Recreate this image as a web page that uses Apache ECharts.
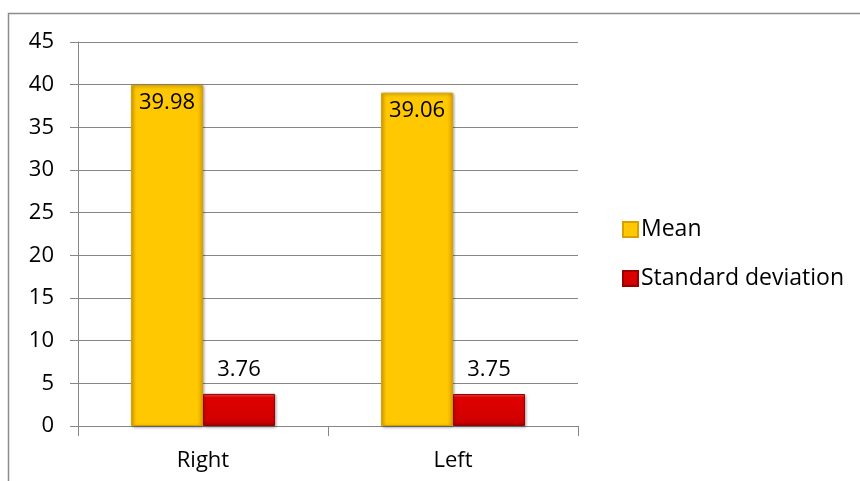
<!DOCTYPE html>
<html><head><meta charset="utf-8">
<script src="https://cdn.jsdelivr.net/npm/echarts@6/dist/echarts.min.js"></script>
<style>html,body{margin:0;padding:0;background:#fff}#c{width:860px;height:481px}</style>
</head><body><div id="c"></div>
<script>
var categories = ['Right', 'Left'];
var meanValues = [39.98, 39.06];
var sdValues = [3.76, 3.75];
var seriesNames = ['Mean', 'Standard deviation'];

var FONT = 'Open Sans';
var FS = 22;
var chart = echarts.init(document.getElementById('c'), null, {renderer: 'canvas'});
var gold = new echarts.graphic.LinearGradient(0, 0, 1, 0, [
  {offset: 0, color: '#E8AE00'}, {offset: 0.08, color: '#FFC800'},
  {offset: 0.92, color: '#FFC800'}, {offset: 1, color: '#E0A400'}]);
var red = new echarts.graphic.LinearGradient(0, 0, 0, 1, [
  {offset: 0, color: '#FF5050'}, {offset: 0.12, color: '#E00000'},
  {offset: 0.85, color: '#D00000'}, {offset: 1, color: '#A00000'}]);
chart.setOption({
  animation: false,
  textStyle: {fontFamily: FONT},
  graphic: [{type: 'rect', shape: {x: 8.5, y: 13.5, width: 900, height: 500},
    style: {fill: 'none', stroke: '#8c8c8c', lineWidth: 1.5}, z: -10}],
  grid: {left: 78, right: 282, top: 42, bottom: 55, containLabel: false},
  legend: {
    orient: 'vertical', left: 617, top: 213, itemGap: 26,
    itemWidth: 15, itemHeight: 15, icon: 'rect',
    textStyle: {fontFamily: FONT, fontSize: 23, color: '#000', padding: [0, 0, 0, -2]},
    data: seriesNames
  },
  xAxis: {
    type: 'category', data: categories,
    axisLine: {lineStyle: {color: '#868686', width: 1}},
    axisTick: {show: true, length: 10, lineStyle: {color: '#868686'}},
    axisLabel: {color: '#000', fontSize: FS, margin: 24, fontFamily: FONT}
  },
  yAxis: {
    type: 'value', min: 0, max: 45, interval: 5,
    axisLine: {show: true, lineStyle: {color: '#868686', width: 1}},
    axisTick: {show: true, length: 8, lineStyle: {color: '#868686'}},
    axisLabel: {color: '#000', fontSize: FS, margin: 24, fontFamily: FONT},
    splitLine: {lineStyle: {color: '#868686', width: 1}}
  },
  series: [{
    name: seriesNames[0], type: 'bar', data: meanValues, barWidth: 72, barGap: '0%',
    itemStyle: {color: gold, borderColor: '#D9A000', borderWidth: 1,
      shadowColor: 'rgba(0,0,0,0.35)', shadowBlur: 3, shadowOffsetX: 1, shadowOffsetY: 1},
    label: {show: true, position: 'insideTop', distance: 7, color: '#000', fontSize: FS, fontFamily: FONT}
  }, {
    name: seriesNames[1], type: 'bar', data: sdValues, barWidth: 72,
    itemStyle: {color: red, borderColor: '#9A0000', borderWidth: 1,
      shadowColor: 'rgba(0,0,0,0.35)', shadowBlur: 3, shadowOffsetX: 1, shadowOffsetY: 1},
    label: {show: true, position: 'top', distance: 13, color: '#000', fontSize: FS, fontFamily: FONT}
  }]
});
</script></body></html>
